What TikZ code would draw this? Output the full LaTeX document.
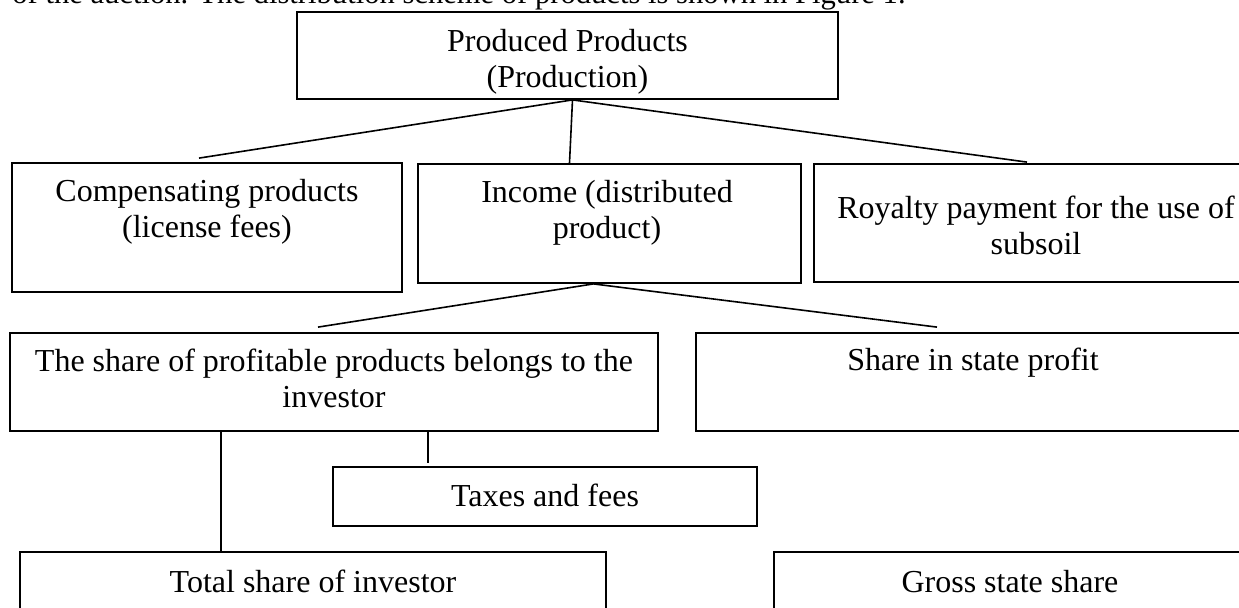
\documentclass[tikz,border=0pt]{standalone}
\usepackage{fontspec}
\setmainfont{Liberation Serif}
\usetikzlibrary{calc}
\tikzset{
  box/.style={draw, line width=0.9pt, inner sep=0pt, rectangle},
  txt/.style={align=center, inner sep=0pt, anchor=base, font=\fontsize{16}{18}\selectfont},
  link/.style={line width=0.8pt}
}
\begin{document}
\begin{tikzpicture}[x=0.5pt,y=-0.5pt]
\clip (0,0) rectangle (1239,607);
\fill[white] (0,0) rectangle (1239,607);
% header text (cut off at the top)
\node[txt, anchor=base west, font=\fontsize{15.3}{18}\selectfont] (hdr) at (12,3) {of the auction. The distribution scheme of products is shown in Figure 1.};
% boxes
\node[box, minimum width=270.5pt, minimum height=43.5pt] (top) at (567.5,55.5) {};
\node[box, minimum width=195pt, minimum height=64.5pt] (comp) at (207,227.5) {};
\node[box, minimum width=191.5pt, minimum height=59.5pt] (income) at (609.5,223.5) {};
\node[box, minimum width=222pt, minimum height=59pt] (royalty) at (1036,223) {};
\node[box, minimum width=324pt, minimum height=49pt] (share) at (334,382) {};
\node[box, minimum width=277pt, minimum height=49pt] (state) at (973,382) {};
\node[box, minimum width=212pt, minimum height=29.5pt] (taxes) at (545,496.5) {};
\node[box, minimum width=293pt, minimum height=44pt] (total) at (313,596) {};
\node[box, minimum width=236pt, minimum height=44pt] (gross) at (1010,596) {};
% texts (base anchor = baseline of the last line)
\node[txt] (ttop) at (567.5,87) {Produced Products\\(Production)};
\node[txt] (tcomp) at (207,237) {Compensating products\\(license fees)};
\node[txt] (tincome) at (607,238) {Income (distributed\\product)};
\node[txt] (troyalty) at (1036,254) {Royalty payment for the use of\\subsoil};
\node[txt] (tshare) at (334,407) {The share of profitable products belongs to the\\investor};
\node[txt] (tstate) at (973,370) {Share in state profit};
\node[txt] (ttaxes) at (545,506) {Taxes and fees};
\node[txt] (ttotal) at (313,592) {Total share of investor};
\node[txt] (tgross) at (1010,592) {Gross state share};
% connectors
\coordinate (j1) at ($(top.south)+(5,0)$);
\draw[link] (j1) -- ($(comp.north)+(-8,-4)$);
\draw[link] (j1) -- ($(income.north)+(-40,0)$);
\draw[link] (j1) -- ($(royalty.north)+(-9,-1)$);
\coordinate (j2) at ($(income.south)+(-16,0)$);
\draw[link] (j2) -- ($(share.north)+(-16,-5)$);
\draw[link] (j2) -- ($(state.north)+(-36,-5)$);
\draw[link] ($(share.south west)+(212,0)$) -- ($(total.north west)+(202,0)$);
\draw[link] ($(share.south west)+(419,0)$) -- ($(taxes.north west)+(96,-3)$);
\end{tikzpicture}
\end{document}
